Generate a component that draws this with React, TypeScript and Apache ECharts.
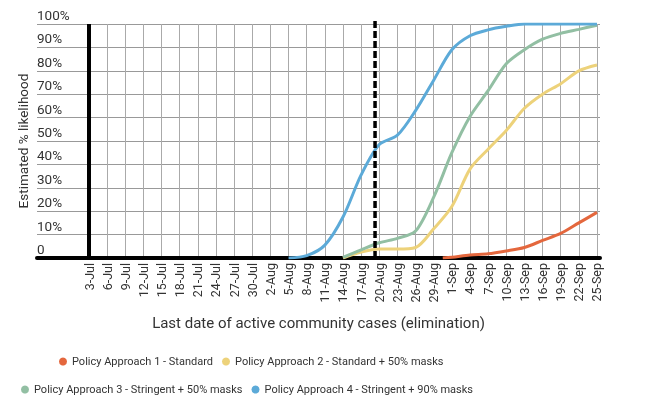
import React, { useEffect, useRef } from "react";
import * as echarts from "echarts";

const dateLabels = [
  "3-Jul", "6-Jul", "9-Jul", "12-Jul", "15-Jul", "18-Jul", "21-Jul", "24-Jul", "27-Jul", "30-Jul",
  "2-Aug", "5-Aug", "8-Aug", "11-Aug", "14-Aug", "17-Aug", "20-Aug", "23-Aug", "26-Aug", "29-Aug",
  "1-Sep", "4-Sep", "7-Sep", "10-Sep", "13-Sep", "16-Sep", "19-Sep", "22-Sep", "25-Sep",
];
// days since 3-Jul for each label
const labelDays = [0, 3, 6, 9, 12, 15, 18, 21, 24, 27, 30, 33, 36, 39, 42, 45, 48, 51, 54, 57, 60, 63, 66, 69, 72, 75, 78, 81, 84];

const policy1 = [null, null, null, null, null, null, null, null, null, null, null, null, null, null, null, null, null, null, null, null, 0.3, 1.3, 1.8, 3, 4.5, 7.5, 10.5, 15, 19.5];
const policy2 = [null, null, null, null, null, null, null, null, null, null, null, null, null, null, 0, 2.5, 3.8, 3.8, 4.5, 12.5, 22, 38, 46.5, 54.5, 64, 70, 74.5, 80, 82.5];
const policy3 = [null, null, null, null, null, null, null, null, null, null, null, null, null, null, 0.3, 3.5, 6.5, 8.4, 11.5, 26, 45, 60.5, 71.5, 83, 89, 93.5, 96, 97.7, 99.5];
const policy4 = [null, null, null, null, null, null, null, null, null, null, null, 0, 1, 5.5, 17.5, 35.5, 48.5, 52.5, 63, 76, 89, 95, 97.5, 99, 100, 100, 100, 100, 100];

const seriesNames = [
  "Policy Approach 1 - Standard",
  "Policy Approach 2 - Standard + 50% masks",
  "Policy Approach 3 - Stringent + 50% masks",
  "Policy Approach 4 - Stringent + 90% masks",
];
const seriesColors = ["#E4673D", "#EDD27A", "#92BFA3", "#5CAAD8"];
const seriesData = [policy1, policy2, policy3, policy4];

const startDay = 0; // 3-Jul, thick reference line
const startFirstRed = 58.5; // day red curve leaves zero
const cutoffDay = 47.3; // dashed line

export default function App() {
  const ref = useRef<HTMLDivElement>(null);
  useEffect(() => {
    if (!ref.current) return;
    const chart = echarts.init(ref.current, undefined, { renderer: "svg" });
    const font = "Roboto";
    const series: any[] = seriesData.map((arr, i) => {
      const pts: any[] = arr.map((v, k) => [labelDays[k], v]);
      if (i === 0) pts.splice(20, 0, [startFirstRed, 0]);
      return {
        name: seriesNames[i],
        type: "line",
        data: pts,
        showSymbol: false,
        smooth: 0.3,
        lineStyle: { color: seriesColors[i], width: 3 },
        itemStyle: { color: seriesColors[i] },
        z: 3,
      };
    });
    series.push({
      name: "markers",
      type: "line",
      data: [],
      z: 4,
      markLine: {
        silent: true,
        symbol: ["none", "none"],
        label: { show: false },
        data: [
          [
            { coord: [startDay, 0], lineStyle: { color: "#000", width: 4, type: "solid" } },
            { coord: [startDay, 100] },
          ],
        ],
      },
    });
    const legendCommon = {
      icon: "circle",
      itemWidth: 8,
      itemHeight: 8,
      itemGap: 9,
      textStyle: { fontSize: 11, color: "#333", fontFamily: font },
    };
    chart.setOption({
      animation: false,
      textStyle: { fontFamily: font },
      grid: { left: 37, right: 49, top: 24, bottom: 142, containLabel: false },
      legend: [
        { ...legendCommon, data: seriesNames.slice(0, 2), left: 54, top: 351 },
        { ...legendCommon, data: seriesNames.slice(2, 4), left: 16, top: 379 },
      ],
      xAxis: {
        type: "value",
        min: -8.6,
        max: 84.5,
        name: "Last date of active community cases (elimination)",
        nameLocation: "middle",
        nameGap: 57,
        nameTextStyle: { fontSize: 15, color: "#333" },
        axisLine: { show: true, lineStyle: { color: "#000", width: 4 } },
        axisTick: { show: false, customValues: labelDays },
        axisLabel: {
          customValues: labelDays,
          rotate: 90,
          margin: 5,
          fontSize: 12.5,
          color: "#333",
          formatter: (v: number) => {
            const k = labelDays.indexOf(Math.round(v));
            return k >= 0 ? dateLabels[k] : "";
          },
        },
        splitLine: { show: true, lineStyle: { color: "#aaa", width: 1 } },
      },
      yAxis: {
        type: "value",
        min: 0,
        max: 100,
        interval: 10,
        name: "Estimated % likelihood",
        nameLocation: "middle",
        nameGap: 7,
        nameMoveOverlap: false,
        nameTextStyle: { fontSize: 13.5, color: "#333" },
        axisLine: { show: false },
        axisTick: { show: false },
        axisLabel: {
          inside: true,
          margin: 0,
          fontSize: 13.5,
          color: "#333",
          verticalAlign: "bottom",
          padding: [0, 0, 2, 0],
          formatter: (v: number) => (v === 0 ? "0" : v + "%"),
        },
        splitLine: { show: true, lineStyle: { color: "#999", width: 1 } },
      },
      series,
    });
    // dashed cutoff line, positioned through the chart's own scales
    const bottom = chart.convertToPixel({ gridIndex: 0 }, [cutoffDay, 0]) as number[];
    const top = chart.convertToPixel({ gridIndex: 0 }, [cutoffDay, 100]) as number[];
    chart.setOption({
      graphic: [
        {
          type: "line",
          z: 100,
          shape: { x1: bottom[0], y1: bottom[1], x2: top[0], y2: top[1] - 5 },
          style: { stroke: "#000", lineWidth: 3.5, lineDash: [7, 3] },
        },
      ],
    });
    return () => chart.dispose();
  }, []);
  return (
    <div
      ref={ref}
      style={{ position: "fixed", left: 0, top: 0, width: 649, height: 400 }}
    />
  );
}
